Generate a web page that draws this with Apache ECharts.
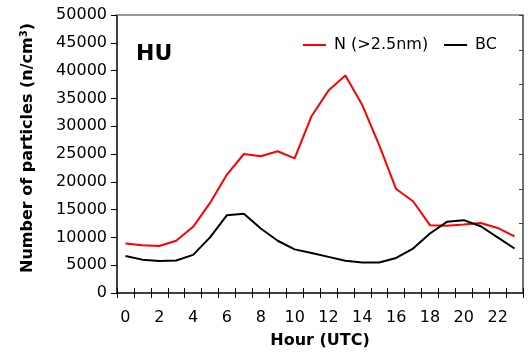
<!DOCTYPE html>
<html><head><meta charset="utf-8">
<script src="https://cdn.jsdelivr.net/npm/echarts@6/dist/echarts.min.js"></script>
<style>html,body{margin:0;padding:0;background:#fff}#c{width:528px;height:354px}</style>
</head><body><div id="c"></div>
<script>
var hours = ['0','1','2','3','4','5','6','7','8','9','10','11','12','13','14','15','16','17','18','19','20','21','22','23'];
var nValues = [8900, 8600, 8450, 9400, 11900, 16200, 21300, 25000, 24600, 25500, 24200, 31800, 36400, 39100, 33800, 26600, 18700, 16500, 12200, 12100, 12300, 12600, 11700, 10200];
var bcValues = [6650, 6000, 5750, 5850, 6850, 10000, 14000, 14250, 11600, 9400, 7850, 7200, 6500, 5800, 5500, 5500, 6300, 8000, 10700, 12800, 13100, 12000, 10000, 8000];
var yTicks = [0, 50000, 5000];
var FONT = 'DejaVu Sans';
var chart = echarts.init(document.getElementById('c'));
chart.setOption({
  animation: false,
  title: {text: 'HU', left: 131, top: 38, textStyle: {fontFamily: FONT, fontWeight: 'bold', fontSize: 22, color: '#000'}},
  legend: {
    left: 297, top: 32, itemWidth: 23, itemHeight: 14, itemGap: 15, itemStyle: {opacity: 0},
    textStyle: {fontFamily: FONT, fontSize: 16, color: '#000', padding: [0,0,0,3]},
    data: [{name: 'N (>2.5nm)'}, {name: 'BC'}]
  },
  grid: {left: 117, right: 5, top: 15, bottom: 59},
  xAxis: [{
    type: 'category', data: hours, boundaryGap: true, position: 'bottom',
    name: 'Hour (UTC)', nameLocation: 'middle', nameGap: 40,
    nameTextStyle: {fontFamily: FONT, fontWeight: 'bold', fontSize: 16, color: '#000'},
    axisLine: {lineStyle: {color: '#000', width: 1.5}},
    axisTick: {show: true, alignWithLabel: false, interval: 0, length: 5, lineStyle: {color: '#000'}},
    axisLabel: {interval: 1, margin: 17, fontFamily: FONT, fontSize: 16, color: '#000'},
    splitLine: {show: false}
  }, {
    type: 'category', data: hours, boundaryGap: true, position: 'bottom', gridIndex: 0,
    axisLine: {show: false},
    axisTick: {show: true, inside: true, interval: 0, length: 5, lineStyle: {color: '#000'}},
    axisLabel: {show: false}, splitLine: {show: false}
  }, {
    type: 'category', data: hours, position: 'top',
    axisLine: {show: true, lineStyle: {color: '#777', width: 1.5}},
    axisTick: {show: false}, axisLabel: {show: false}, splitLine: {show: false}
  }],
  yAxis: [{
    type: 'value', min: yTicks[0], max: yTicks[1], interval: yTicks[2],
    name: '{a|Number of particles (n/cm}{s|3}{a|)}', nameLocation: 'middle', nameGap: 80,
    nameTextStyle: {padding: [0, 0, 0, 12], rich: {
      a: {fontFamily: FONT, fontWeight: 'bold', fontSize: 16, color: '#000'},
      s: {fontFamily: FONT, fontWeight: 'bold', fontSize: 10, color: '#000', verticalAlign: 'bottom', padding: [0,0,8,0]}
    }},
    axisLine: {show: true, lineStyle: {color: '#000', width: 1.5}},
    axisTick: {show: true, length: 6, lineStyle: {color: '#000'}},
    axisLabel: {margin: 10, fontFamily: FONT, fontSize: 16, color: '#000', formatter: function (v) { return String(v); }},
    splitLine: {show: false}
  }, {
    type: 'value', min: 0, max: 8, interval: 1, position: 'right',
    axisLine: {show: true, lineStyle: {color: '#444', width: 1.5}},
    axisTick: {show: true, inside: true, length: 4, lineStyle: {color: '#444'}},
    axisLabel: {show: false}, splitLine: {show: false}
  }],
  series: [{
    name: 'N (>2.5nm)', type: 'line', data: nValues, symbol: 'none',
    lineStyle: {color: '#ff0000', width: 2}, itemStyle: {color: '#ff0000'}
  }, {
    name: 'BC', type: 'line', data: bcValues, symbol: 'none',
    lineStyle: {color: '#000', width: 2}, itemStyle: {color: '#000'}
  }]
});
</script></body></html>
